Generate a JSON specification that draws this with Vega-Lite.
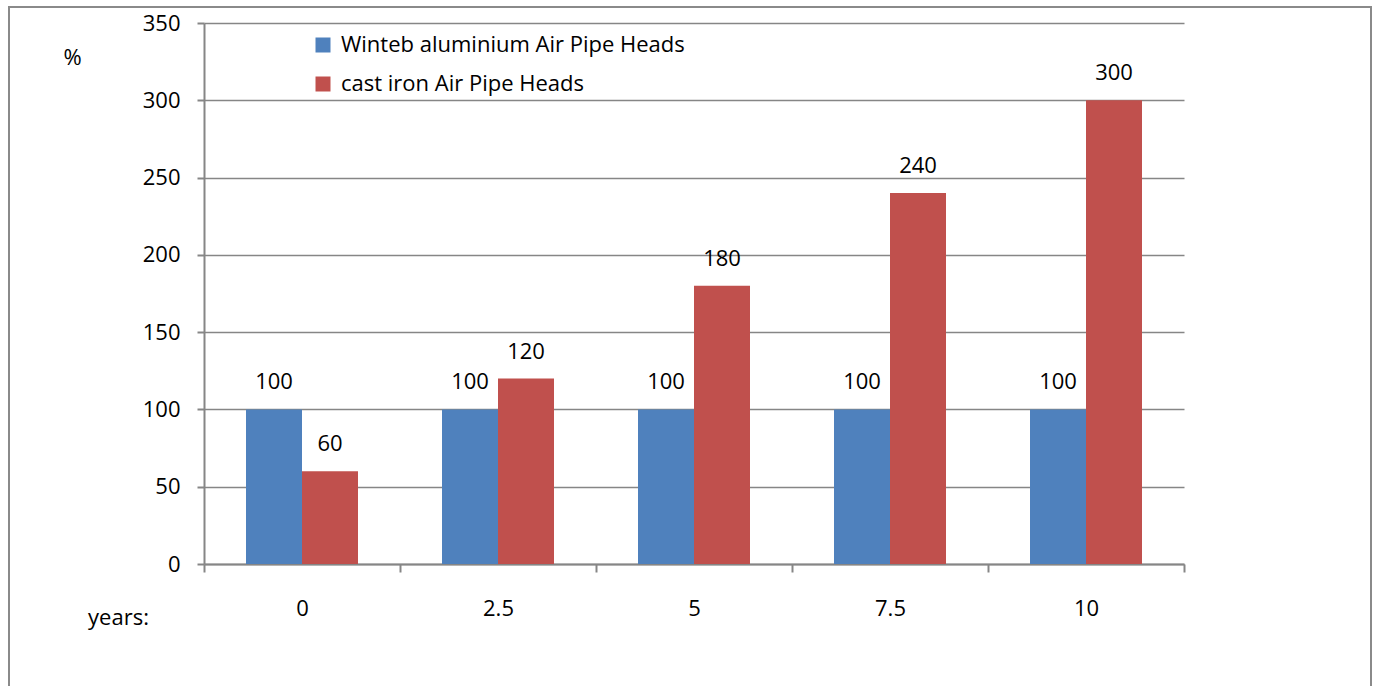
{
  "$schema": "https://vega.github.io/schema/vega-lite/v6.json",
  "width": 1362,
  "height": 700,
  "autosize": {"type": "none"},
  "padding": {"left": 9, "top": 7, "right": 7, "bottom": 0},
  "background": "white",
  "config": {
    "font": "Open Sans",
    "view": {"stroke": "#8a8a8a", "strokeWidth": 2},
    "axis": {"labelFont": "Open Sans", "titleFont": "Open Sans", "labelColor": "black", "titleColor": "black", "titleFontWeight": "normal"}
  },
  "data": {
    "values": [
      {"year": "0", "series": "Winteb aluminium Air Pipe Heads", "value": 100},
      {"year": "0", "series": "cast iron Air Pipe Heads", "value": 60},
      {"year": "2.5", "series": "Winteb aluminium Air Pipe Heads", "value": 100},
      {"year": "2.5", "series": "cast iron Air Pipe Heads", "value": 120},
      {"year": "5", "series": "Winteb aluminium Air Pipe Heads", "value": 100},
      {"year": "5", "series": "cast iron Air Pipe Heads", "value": 180},
      {"year": "7.5", "series": "Winteb aluminium Air Pipe Heads", "value": 100},
      {"year": "7.5", "series": "cast iron Air Pipe Heads", "value": 240},
      {"year": "10", "series": "Winteb aluminium Air Pipe Heads", "value": 100},
      {"year": "10", "series": "cast iron Air Pipe Heads", "value": 300}
    ]
  },
  "encoding": {
    "x": {
      "field": "year", "type": "nominal", "sort": null,
      "scale": {"paddingInner": 0, "paddingOuter": 0, "range": [195, 1175]},
      "axis": {
        "offset": -143,
        "title": "years:", "titleAngle": 0, "titleFontSize": 22, "titleX": 109, "titleY": 53,
        "titleAlign": "center", "titleBaseline": "middle",
        "labelAngle": 0, "labelFontSize": 22, "labelBaseline": "middle", "labelPadding": 36,
        "tickBand": "extent", "tickSize": 8, "tickColor": "#868686", "tickWidth": 2,
        "domainColor": "#868686", "domainWidth": 2, "grid": false
      }
    },
    "xOffset": {"field": "series", "type": "nominal", "scale": {"paddingInner": 0, "paddingOuter": 0.75}},
    "y": {
      "field": "value", "type": "quantitative",
      "scale": {"domain": [0, 350], "nice": false, "range": [557, 16]},
      "axis": {
        "offset": -195,
        "title": "%", "titleAngle": 0, "titleFontSize": 22, "titleX": -132, "titleY": 50,
        "titleAlign": "center", "titleBaseline": "middle",
        "values": [0, 50, 100, 150, 200, 250, 300, 350],
        "labelFontSize": 22, "labelPadding": 17, "tickSize": 7, "tickColor": "#868686", "tickWidth": 2,
        "domainColor": "#868686", "domainWidth": 2,
        "grid": true, "gridColor": "#868686", "gridWidth": 1.5
      }
    }
  },
  "layer": [
    {
      "mark": {"type": "bar"},
      "encoding": {
        "color": {
          "field": "series", "type": "nominal",
          "scale": {"domain": ["Winteb aluminium Air Pipe Heads", "cast iron Air Pipe Heads"], "range": ["#4F81BD", "#C0504D"]},
          "legend": {
            "title": null, "orient": "none", "legendX": 303, "legendY": 27,
            "symbolType": "square", "symbolSize": 225, "symbolStrokeWidth": 0, "symbolOpacity": 1,
            "labelFontSize": 22, "labelFont": "Open Sans", "labelColor": "black", "labelOffset": 7,
            "rowPadding": 17, "labelLimit": 600
          }
        }
      }
    },
    {
      "mark": {"type": "text", "fontSize": 22, "baseline": "middle", "dy": -27, "color": "black"},
      "encoding": {"text": {"field": "value", "type": "quantitative"}}
    }
  ]
}
